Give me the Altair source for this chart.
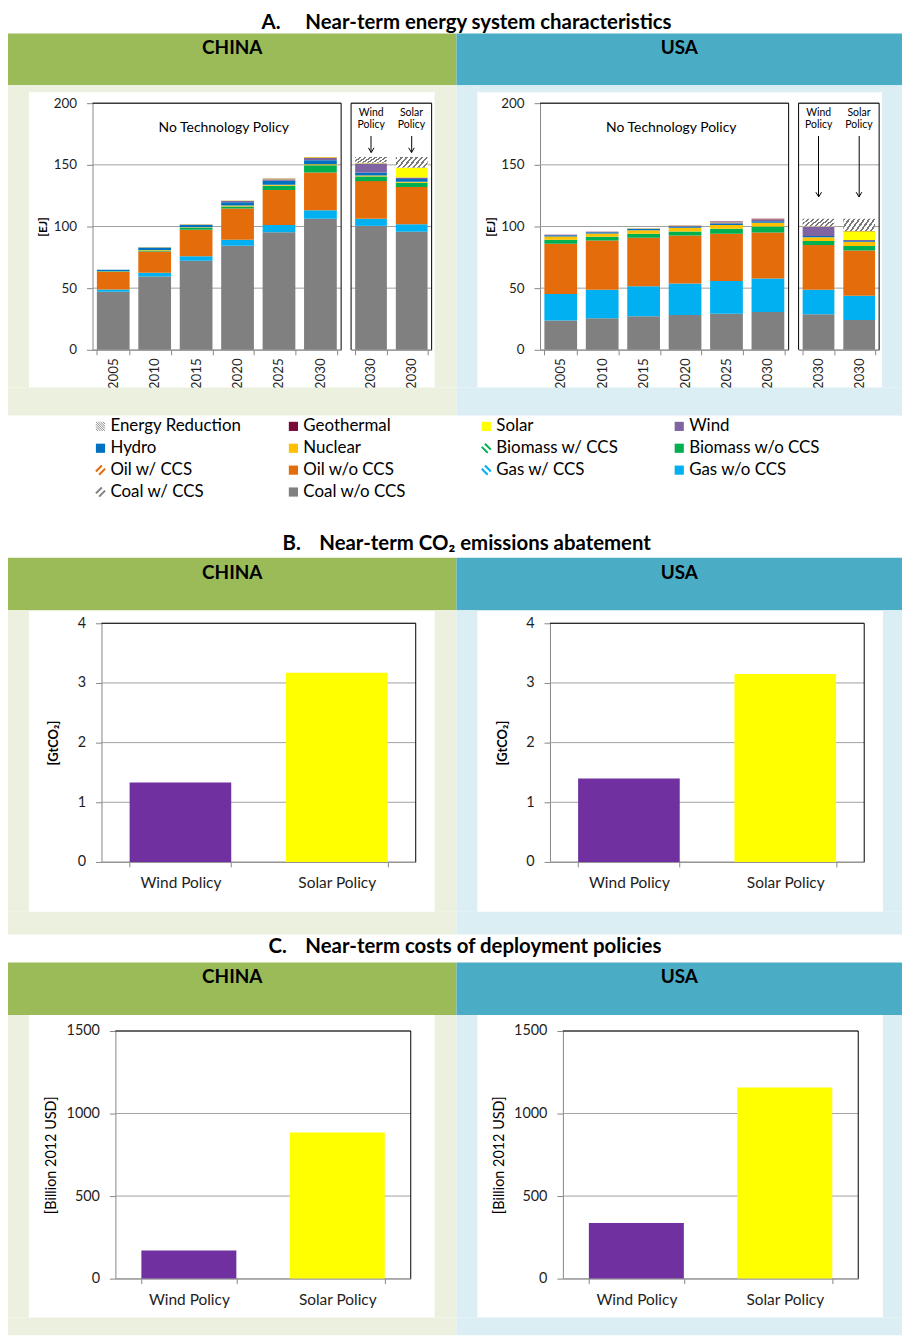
import altair as alt
import pandas as pd

FONT = "Lato"

# ------------------------------------------------------------------ data
years = ["2005", "2010", "2015", "2020", "2025", "2030"]
policies = ["Wind Policy", "Solar Policy"]
energy_columns = years + policies

stack_order = ["Coal w/o CCS", "Coal w/ CCS", "Gas w/o CCS", "Gas w/ CCS",
               "Oil w/o CCS", "Oil w/ CCS", "Biomass w/o CCS", "Biomass w/ CCS",
               "Nuclear", "Hydro", "Wind", "Solar", "Geothermal", "Energy Reduction"]

legend_items = ["Energy Reduction", "Geothermal", "Solar", "Wind",
                "Hydro", "Nuclear", "Biomass w/ CCS", "Biomass w/o CCS",
                "Oil w/ CCS", "Oil w/o CCS", "Gas w/ CCS", "Gas w/o CCS",
                "Coal w/ CCS", "Coal w/o CCS"]

# [EJ]: 2005..2030 without technology policy, then 2030 wind policy, 2030 solar policy
china_coal = [47.0, 59.4, 72.3, 84.4, 95.4, 106.2, 100.5, 95.7]
china_gas = [2.0, 3.0, 3.5, 4.8, 5.9, 7.0, 5.8, 6.2]
china_oil = [14.0, 17.4, 21.5, 25.3, 28.3, 30.6, 30.5, 30.1]
china_biomass = [0.5, 0.8, 1.6, 1.8, 3.5, 5.9, 3.8, 3.5]
china_nuclear = [0.2, 0.3, 0.5, 0.8, 0.8, 0.8, 0.8, 0.8]
china_hydro = [1.2, 2.0, 1.9, 2.5, 3.2, 3.3, 2.3, 2.2]
china_wind = [0.1, 0.3, 0.3, 1.2, 1.3, 1.8, 7.5, 1.3]
china_solar = [0.0, 0.1, 0.2, 0.3, 0.3, 0.5, 0.3, 7.8]
china_geothermal = [0.0, 0.0, 0.0, 0.0, 0.2, 0.3, 0.2, 0.2]
china_reduction = [0.0, 0.0, 0.0, 0.0, 0.0, 0.0, 4.7, 8.6]

usa_coal = [23.7, 25.5, 27.2, 28.2, 29.3, 30.6, 28.8, 24.2]
usa_gas = [21.5, 23.2, 24.4, 25.6, 26.6, 27.2, 19.9, 19.6]
usa_oil = [40.8, 40.0, 39.3, 38.9, 38.2, 37.4, 36.3, 36.8]
usa_biomass = [3.2, 3.0, 3.2, 3.3, 4.0, 4.8, 3.3, 3.5]
usa_nuclear = [2.7, 2.7, 2.9, 2.9, 3.2, 3.0, 3.0, 3.5]
usa_hydro = [1.0, 0.9, 1.0, 1.0, 1.1, 1.3, 1.0, 0.6]
usa_wind = [0.3, 0.3, 0.4, 0.6, 1.1, 1.1, 7.5, 0.8]
usa_solar = [0.0, 0.0, 0.1, 0.2, 0.2, 0.3, 0.3, 7.2]
usa_geothermal = [0.1, 0.1, 0.1, 0.2, 0.3, 0.5, 0.2, 0.2]
usa_reduction = [0.0, 0.0, 0.0, 0.0, 0.0, 0.0, 5.9, 9.8]

energy_ticks = [0, 50, 100, 150, 200]
china_arrow_tip = [160, 160]
usa_arrow_tip = [124, 124]

abatement_ticks = [0, 1, 2, 3, 4]
china_abatement = [1.33, 3.17]
usa_abatement = [1.40, 3.15]

cost_ticks = [0, 500, 1000, 1500]
china_cost = [170, 885]
usa_cost = [337, 1157]

# ------------------------------------------------------------------ style
tech_colors = {
    "Coal w/o CCS": "#808080", "Coal w/ CCS": "#808080",
    "Gas w/o CCS": "#00B0F0", "Gas w/ CCS": "#00B0F0",
    "Oil w/o CCS": "#E46C0A", "Oil w/ CCS": "#E46C0A",
    "Biomass w/o CCS": "#00B050", "Biomass w/ CCS": "#00B050",
    "Nuclear": "#FFC000", "Hydro": "#0070C0", "Wind": "#8064A2",
    "Solar": "#FFFF00", "Geothermal": "#7B0A3C", "Energy Reduction": "#FFFFFF",
}
legend_colors = dict(tech_colors)
legend_colors["Energy Reduction"] = "#8c8c8c"

GREEN, BLUE = "#9BBB59", "#4BACC6"
PALE_GREEN, PALE_BLUE = "#EBF1DE", "#DAEEF3"
AX_GRAY = "#868686"
GRID = "#a0a0a0"
LABEL = "#1e1e1e"
POLICY_COLORS = ["#7030A0", "#FFFF00"]
X0 = 92  # page x of every row's first-column origin
TITLE_SIZE = 20.5


def hatch_fill(n=8, dark="#7a7a7a", frac=0.42):
    stops = []
    for i in range(n):
        a, b, c = i / n, (i + frac) / n, (i + 1) / n
        stops += [{"offset": a, "color": dark}, {"offset": b, "color": dark},
                  {"offset": b, "color": "#ffffff"}, {"offset": c, "color": "#ffffff"}]
    return {"gradient": "linear", "x1": 0, "y1": 0, "x2": 1.18, "y2": 0.32, "stops": stops}


HATCH = hatch_fill()
ONE = pd.DataFrame({"k": [0]})


def d_rect(x, x2, y, y2, color):
    return alt.Chart(ONE).mark_rect(color=color, strokeWidth=0).encode(
        x=alt.value(x), x2=alt.value(x2), y=alt.value(y), y2=alt.value(y2))


def d_line(x, x2, y, y2, color="black"):
    return alt.Chart(ONE).mark_rule(color=color, strokeWidth=1).encode(
        x=alt.value(x), x2=alt.value(x2), y=alt.value(y), y2=alt.value(y2))


def d_text(x, y, text, size, weight="normal", align="center"):
    return alt.Chart(ONE).mark_text(text=text, fontSize=size, fontWeight=weight, align=align,
                                    baseline="middle", font=FONT, color="black").encode(
        x=alt.value(x), y=alt.value(y))


def panel_background(spec, ox, oy, band_color, pale_color, label):
    """Band + pale frame relative to the view origin (ox, oy) in page pixels."""
    L, R = spec["left"] - ox, spec["right"] - ox
    BT, BB, PB = spec["band_top"] - oy, spec["band_bottom"] - oy, spec["pale_bottom"] - oy
    wx1, wx2, wy1, wy2 = spec["white"]
    wx1, wx2, wy1, wy2 = wx1 - ox, wx2 - ox, wy1 - oy, wy2 - oy
    parts = [d_rect(L, R, BT, BB, band_color),
             d_rect(L, R, wy2, PB, pale_color),
             d_rect(L, wx1, BB, wy2, pale_color),
             d_rect(wx2, R, BB, wy2, pale_color)]
    if wy1 > BB:
        parts.append(d_rect(wx1, wx2, BB, wy1, pale_color))
    parts.append(d_text((L + R) / 2, BT + 15, label, 19, "bold"))
    return parts


# panel geometry in page pixels
A_CHINA = dict(left=7, right=458, band_top=26, band_bottom=78, pale_bottom=410,
               white=(28, 436, 85, 382), plot=(92, 433, 96, 344))
A_USA = dict(left=458, right=906, band_top=26, band_bottom=78, pale_bottom=410,
             white=(479, 886, 85, 382), plot=(542, 883, 96, 344))
B_CHINA = dict(left=7, right=458, band_top=554, band_bottom=607, pale_bottom=933,
               white=(28, 436, 607, 910), plot=(101, 417, 620, 860))
B_USA = dict(left=458, right=906, band_top=554, band_bottom=607, pale_bottom=933,
             white=(479, 887, 607, 910), plot=(552, 868, 620, 860))
C_CHINA = dict(left=7, right=458, band_top=964, band_bottom=1017, pale_bottom=1339,
               white=(28, 436, 1017, 1321), plot=(115, 412, 1033, 1282))
C_USA = dict(left=458, right=906, band_top=964, band_bottom=1017, pale_bottom=1339,
             white=(479, 887, 1017, 1321), plot=(565, 862, 1033, 1282))


def energy_frame(series):
    rows = []
    for tech, values in series.items():
        for col, v in zip(energy_columns, values):
            rows.append({"col": col, "tech": tech, "value": v, "ord": stack_order.index(tech)})
    return pd.DataFrame(rows)


color_scale = alt.Scale(domain=stack_order, range=[tech_colors[t] for t in stack_order])


def energy_panel(spec, series, arrow_tip, band_color, pale_color, label):
    x1, x2, y1, y2 = spec["plot"]
    PW, PH = x2 - x1, y2 - y1
    MAIN_END, SIDE_START = 250, 260
    df = energy_frame(series)
    main_df = df[df["col"].isin(years)]
    side_df = df[df["col"].isin(policies)]
    ysc = alt.Scale(domain=[energy_ticks[0], energy_ticks[-1]], nice=False)
    y_axis = alt.Axis(values=energy_ticks, tickSize=6, labelPadding=10, labelFontSize=13.5,
                      title="[EJ]", titleFontSize=12, titleFontWeight="bold", titleX=-50,
                      titleBaseline="middle", titleColor="black")

    def Y(field):
        return alt.Y(field, scale=ysc, title="[EJ]", axis=y_axis)

    def xs_main():
        return alt.Scale(domain=years, range=[0, MAIN_END], paddingInner=0.21, paddingOuter=0.105)

    def xs_side():
        return alt.Scale(domain=policies, range=[SIDE_START, PW], paddingInner=0.22, paddingOuter=0.1)

    grid_df = pd.DataFrame({"v": energy_ticks})
    grid_main = alt.Chart(grid_df).mark_rule(color=GRID, strokeWidth=1).encode(
        y=Y("v:Q"), x=alt.value(0), x2=alt.value(MAIN_END))
    grid_side = alt.Chart(grid_df).mark_rule(color=GRID, strokeWidth=1).encode(
        y=Y("v:Q"), x=alt.value(SIDE_START), x2=alt.value(PW))

    main_bars = alt.Chart(main_df).mark_bar().encode(
        x=alt.X("col:N", sort=years, scale=xs_main(), title=None,
                axis=alt.Axis(orient="bottom", labelAngle=-90, labelFontSize=13.5, labelPadding=3,
                              tickSize=5, tickBand="extent", labelAlign="right", labelBaseline="middle")),
        y=alt.Y("value:Q", stack="zero", scale=ysc, title="[EJ]", axis=y_axis),
        color=alt.Color("tech:N", scale=color_scale, legend=None),
        order=alt.Order("ord:Q", sort="ascending"),
    )
    side_bars = alt.Chart(side_df).mark_bar().encode(
        x=alt.X("col:N", sort=policies, scale=xs_side(), title=None,
                axis=alt.Axis(orient="bottom", labelAngle=-90, labelFontSize=13.5, labelPadding=3,
                              tickSize=5, tickBand="extent",
                              labelExpr="datum.label == '' ? '' : '2030'",
                              labelAlign="right", labelBaseline="middle")),
        y=alt.Y("value:Q", stack="zero", scale=ysc, title="[EJ]", axis=y_axis),
        color=alt.Color("tech:N", scale=color_scale, legend=None),
        order=alt.Order("ord:Q", sort="ascending"),
    )
    hatch = alt.Chart(side_df).transform_stack(
        stack="value", groupby=["col"], as_=["y0", "y1"],
        sort=[alt.SortField("ord", order="ascending")],
    ).transform_filter(alt.datum.tech == "Energy Reduction").mark_bar(fill=HATCH, strokeWidth=0).encode(
        x=alt.X("col:N", sort=policies, scale=xs_side(), axis=None),
        y=Y("y1:Q"), y2="y0:Q")

    ann_df = pd.DataFrame({"col": policies, "tip": arrow_tip})
    pol_labels = alt.Chart(ann_df).mark_text(fontSize=10.5, lineBreak=" ", baseline="top", font=FONT,
                                             lineHeight=12, color="black").encode(
        x=alt.X("col:N", sort=policies, scale=xs_side(), axis=None), y=alt.value(5), text="col:N")
    arrows = alt.Chart(ann_df).mark_rule(color="black", strokeWidth=1).encode(
        x=alt.X("col:N", sort=policies, scale=xs_side(), axis=None),
        y=Y("tip:Q"), y2=alt.value(33))
    heads = alt.Chart(ann_df).mark_point(shape="M-0.6,-1L0,0L0.6,-1", size=90, filled=False,
                                         color="black", strokeWidth=1, opacity=1).encode(
        x=alt.X("col:N", sort=policies, scale=xs_side(), axis=None), y=Y("tip:Q"))

    borders = [d_line(0, MAIN_END, 0, 0), d_line(MAIN_END, MAIN_END, 0, PH),
               d_line(SIDE_START, PW, 0, 0), d_line(SIDE_START, SIDE_START, 0, PH),
               d_line(PW, PW, 0, PH)]
    layers = panel_background(spec, x1, y1, band_color, pale_color, label) + [
        grid_main, grid_side, main_bars, side_bars, hatch] + borders + [
        d_text(132, 25, "No Technology Policy", 14), pol_labels, arrows, heads]
    return alt.layer(*layers).resolve_scale(x="independent").properties(width=PW, height=PH)


def policy_panel(spec, values, ticks, ytitle, title_weight, title_size, title_x,
                 pad_inner, pad_outer, band_color, pale_color, label, first_column):
    x1, x2, y1, y2 = spec["plot"]
    PW, PH = x2 - x1, y2 - y1
    inner = (x1 - X0) if first_column else 0      # view origin shared by all first-column panels
    ox = x1 - inner
    df = pd.DataFrame({"policy": policies, "value": values})
    ysc = alt.Scale(domain=[ticks[0], ticks[-1]], nice=False)
    y_axis = alt.Axis(values=ticks, format="d", tickSize=6, labelPadding=10, labelFontSize=14.5,
                      title=ytitle, titleFontSize=title_size, titleFontWeight=title_weight,
                      titleX=title_x, titleBaseline="middle", titleColor="black", offset=-inner)
    grid = alt.Chart(pd.DataFrame({"v": ticks})).mark_rule(color=GRID, strokeWidth=1).encode(
        y=alt.Y("v:Q", scale=ysc, title=ytitle, axis=y_axis), x=alt.value(inner), x2=alt.value(inner + PW))
    bars = alt.Chart(df).mark_bar().encode(
        x=alt.X("policy:N", sort=policies,
                scale=alt.Scale(domain=policies, range=[inner, inner + PW],
                                paddingInner=pad_inner, paddingOuter=pad_outer),
                axis=alt.Axis(title=None, labelAngle=0, labelFontSize=15.5, labelPadding=9,
                              tickSize=5, tickBand="extent")),
        y=alt.Y("value:Q", scale=ysc, title=ytitle, axis=y_axis),
        color=alt.Color("policy:N", scale=alt.Scale(domain=policies, range=POLICY_COLORS), legend=None),
    )
    borders = [d_line(inner, inner + PW, 0, 0), d_line(inner + PW, inner + PW, 0, PH)]
    layers = panel_background(spec, ox, y1, band_color, pale_color, label) + [grid, bars] + borders
    return alt.layer(*layers).properties(width=inner + PW, height=PH)


china_series = {"Coal w/o CCS": china_coal, "Gas w/o CCS": china_gas, "Oil w/o CCS": china_oil,
                "Biomass w/o CCS": china_biomass, "Nuclear": china_nuclear, "Hydro": china_hydro,
                "Wind": china_wind, "Solar": china_solar, "Geothermal": china_geothermal,
                "Energy Reduction": china_reduction}
usa_series = {"Coal w/o CCS": usa_coal, "Gas w/o CCS": usa_gas, "Oil w/o CCS": usa_oil,
              "Biomass w/o CCS": usa_biomass, "Nuclear": usa_nuclear, "Hydro": usa_hydro,
              "Wind": usa_wind, "Solar": usa_solar, "Geothermal": usa_geothermal,
              "Energy Reduction": usa_reduction}

TOTAL_W = 906 - X0


def title_row(prefix, text, h, y, x_prefix, x_text):
    return alt.layer(d_text(x_prefix - X0, y, prefix, TITLE_SIZE, "bold", "left"),
                     d_text(x_text - X0, y, text, TITLE_SIZE, "bold", "left")).properties(width=TOTAL_W, height=h)


title_a = title_row("A.", "Near-term energy system characteristics", 12, 11, 262, 306)
row_a = alt.hconcat(
    energy_panel(A_CHINA, china_series, china_arrow_tip, GREEN, PALE_GREEN, "CHINA"),
    energy_panel(A_USA, usa_series, usa_arrow_tip, BLUE, PALE_BLUE, "USA"),
    spacing=0).resolve_scale(color="independent")

leg_df = pd.DataFrame({"tech": legend_items, "i": list(range(len(legend_items)))})
leg_base = alt.Chart(leg_df).transform_calculate(col="datum.i % 4", row="floor(datum.i / 4)")
LX = alt.X("col:Q", scale=alt.Scale(domain=[0, 3], range=[100 - X0, 682 - X0]), axis=None)
LY = alt.Y("row:Q", scale=alt.Scale(domain=[0, 3], range=[11, 77]), axis=None)
leg_color = alt.Color("tech:N", scale=alt.Scale(domain=legend_items,
                                                range=[legend_colors[t] for t in legend_items]), legend=None)
ccs_items = [t for t in legend_items if "w/ CCS" in t]
SLASH = "M-1,0.3L0.3,-1M-0.3,1L1,-0.3"
BACKSLASH = "M-1,-0.3L0.3,1M-0.3,-1L1,0.3"
ccs_shapes = [BACKSLASH if t.startswith(("Biomass", "Gas")) else SLASH for t in ccs_items]
ER_PATH = "M-1,-0.5L0.5,1M-1,-1L1,1M-0.5,-1L1,0.5M-1,0L0,1M0,-1L1,0M-1,0.5L-0.5,1M0.5,-1L1,-0.5"

leg_solid = leg_base.transform_filter(
    "indexof(datum.tech, 'w/ CCS') < 0 && datum.tech != 'Energy Reduction'"
).mark_square(size=85, opacity=1).encode(x=LX, y=LY, color=leg_color)
leg_ccs = leg_base.transform_filter("indexof(datum.tech, 'w/ CCS') >= 0").mark_point(
    filled=False, strokeWidth=2, size=85, opacity=1).encode(
    x=LX, y=LY, color=leg_color,
    shape=alt.Shape("tech:N", scale=alt.Scale(domain=ccs_items, range=ccs_shapes), legend=None))
leg_er = leg_base.transform_filter("datum.tech == 'Energy Reduction'").mark_point(
    shape=ER_PATH, filled=False, strokeWidth=1, size=85, opacity=1, color="#8c8c8c").encode(x=LX, y=LY)
leg_text = leg_base.mark_text(align="left", baseline="middle", dx=10, fontSize=17, font=FONT,
                              color="black").encode(x=LX, y=LY, text="tech:N")
legend = alt.layer(leg_solid, leg_ccs, leg_er, leg_text).properties(width=TOTAL_W, height=86)

title_b = title_row("B.", "Near-term CO\u2082 emissions abatement", 57, 43, 283, 320)
row_b = alt.hconcat(
    policy_panel(B_CHINA, china_abatement, abatement_ticks, "[GtCO\u2082]", "bold", 13, -48,
                 0.35, 0.18, GREEN, PALE_GREEN, "CHINA", True),
    policy_panel(B_USA, usa_abatement, abatement_ticks, "[GtCO\u2082]", "bold", 13, -48,
                 0.35, 0.18, BLUE, PALE_BLUE, "USA", False),
    spacing=0).resolve_scale(color="independent")

title_c = title_row("C.", "Near-term costs of deployment policies", 28, 13, 269, 306)
row_c = alt.hconcat(
    policy_panel(C_CHINA, china_cost, cost_ticks, "[Billion 2012 USD]", "normal", 14.5, -64,
                 0.36, 0.175, GREEN, PALE_GREEN, "CHINA", True),
    policy_panel(C_USA, usa_cost, cost_ticks, "[Billion 2012 USD]", "normal", 14.5, -64,
                 0.36, 0.175, BLUE, PALE_BLUE, "USA", False),
    spacing=0).resolve_scale(color="independent")

chart = alt.vconcat(title_a, row_a, legend, title_b, row_b, title_c, row_c, spacing=0).properties(
    padding=0
).resolve_scale(color="independent", shape="independent").configure_view(stroke=None).configure_axis(
    grid=False, labelFont=FONT, titleFont=FONT, domainColor=AX_GRAY, tickColor=AX_GRAY,
    labelColor=LABEL, domainWidth=1, tickWidth=1)

chart.save("out.html", embed_options={"renderer": "svg", "actions": False})
